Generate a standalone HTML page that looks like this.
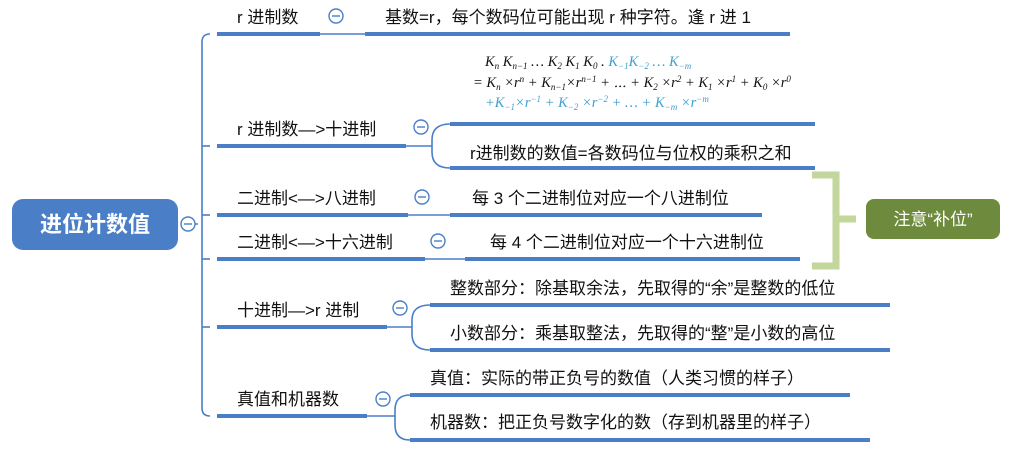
<!DOCTYPE html>
<html><head><meta charset="utf-8"><style>
html,body{margin:0;padding:0;background:#fff;}
svg{display:block;}
text{font-family:"Liberation Sans","Noto Sans CJK SC",sans-serif;fill:#111;}
.t{font-size:17px;}
.m{font-family:"Liberation Serif","Noto Serif CJK SC",serif;font-style:italic;font-size:14.5px;}
</style></head><body>
<svg width="1024" height="453" viewBox="0 0 1024 453" xmlns="http://www.w3.org/2000/svg">
<g fill="none" stroke="#4a7fc8" stroke-width="1.6">
<path d="M190 224 H198 M210 34 Q202 34 202 42 V408 Q202 416 210 416"/>
<path d="M202 146 Q202 146 210 146"/>
<path d="M202 215 Q202 215 210 215"/>
<path d="M202 259 Q202 259 210 259"/>
<path d="M202 327 Q202 327 210 327"/>
<path d="M406 146 H432 M450 124 Q432 124 432 140 V152 Q432 168 450 168"/>
<path d="M387 327 H412 M430 305 Q412 305 412 320 V334 Q412 350 430 350"/>
<path d="M367 416 H395 M410 395 Q395 395 395 410 V425 Q395 440 410 440"/>
<path d="M320 34 H365 M408 215 H450 M425 259 H465"/>
</g>
<g stroke="#4a7fc8" stroke-width="4" stroke-linecap="butt">
<line x1="217" y1="34" x2="320" y2="34"/>
<line x1="365" y1="34" x2="790" y2="34"/>
<line x1="217" y1="146" x2="406" y2="146"/>
<line x1="450" y1="124" x2="815" y2="124"/>
<line x1="450" y1="168" x2="815" y2="168"/>
<line x1="217" y1="215" x2="408" y2="215"/>
<line x1="450" y1="215" x2="762" y2="215"/>
<line x1="217" y1="259" x2="425" y2="259"/>
<line x1="465" y1="259" x2="800" y2="259"/>
<line x1="217" y1="327" x2="387" y2="327"/>
<line x1="430" y1="305" x2="890" y2="305"/>
<line x1="430" y1="350" x2="890" y2="350"/>
<line x1="217" y1="416" x2="367" y2="416"/>
<line x1="410" y1="395" x2="850" y2="395"/>
<line x1="410" y1="440" x2="870" y2="440"/>
</g>
<g fill="#fff" stroke="#4a7fc8" stroke-width="1.4">
<circle cx="188" cy="224" r="7"/><circle cx="336" cy="16" r="7"/><circle cx="421" cy="127" r="7"/>
<circle cx="422" cy="197" r="7"/><circle cx="438" cy="241" r="7"/><circle cx="400" cy="308" r="7"/>
<circle cx="383" cy="399" r="7"/>
</g>
<g stroke="#4a7fc8" stroke-width="1.4">
<line x1="184" y1="224" x2="192" y2="224"/><line x1="332" y1="16" x2="340" y2="16"/><line x1="417" y1="127" x2="425" y2="127"/>
<line x1="418" y1="197" x2="426" y2="197"/><line x1="434" y1="241" x2="442" y2="241"/><line x1="396" y1="308" x2="404" y2="308"/>
<line x1="379" y1="399" x2="387" y2="399"/>
</g>
<rect x="12" y="199" width="166" height="51" rx="11" fill="#4a7fc8"/>
<text x="95" y="232" text-anchor="middle" style="font-size:22px;fill:#fff;font-weight:bold">进位计数值</text>
<text class="t" x="237" y="23">r 进制数</text>
<text class="t" x="385" y="23">基数=r，每个数码位可能出现 r 种字符。逢 r 进 1</text>
<text class="t" x="237" y="135">r 进制数—&gt;十进制</text>
<text class="t" x="470" y="159">r进制数的数值=各数码位与位权的乘积之和</text>
<text class="t" x="237" y="204">二进制&lt;—&gt;八进制</text>
<text class="t" x="472" y="204">每 3 个二进制位对应一个八进制位</text>
<text class="t" x="237" y="248">二进制&lt;—&gt;十六进制</text>
<text class="t" x="490" y="248">每 4 个二进制位对应一个十六进制位</text>
<text class="t" x="237" y="316">十进制—&gt;r 进制</text>
<text class="t" x="450" y="294">整数部分：除基取余法，先取得的“余”是整数的低位</text>
<text class="t" x="450" y="339">小数部分：乘基取整法，先取得的“整”是小数的高位</text>
<text class="t" x="237" y="405">真值和机器数</text>
<text class="t" x="430" y="384">真值：实际的带正负号的数值（人类习惯的样子）</text>
<text class="t" x="430" y="428">机器数：把正负号数字化的数（存到机器里的样子）</text>
<text class="m" x="485" y="66">K<tspan font-size="9" dy="3">n</tspan><tspan dy="-3"> K</tspan><tspan font-size="9" dy="3">n−1</tspan><tspan dy="-3"> … K</tspan><tspan font-size="9" dy="3">2</tspan><tspan dy="-3"> K</tspan><tspan font-size="9" dy="3">1</tspan><tspan dy="-3"> K</tspan><tspan font-size="9" dy="3">0</tspan><tspan dy="-3"> . </tspan><tspan fill="#3fa0d0">K</tspan><tspan fill="#3fa0d0" font-size="9" dy="3">−1</tspan><tspan fill="#3fa0d0" dy="-3">K</tspan><tspan fill="#3fa0d0" font-size="9" dy="3">−2</tspan><tspan fill="#3fa0d0" dy="-3"> … K</tspan><tspan fill="#3fa0d0" font-size="9" dy="3">−m</tspan></text>
<text class="m" x="473" y="87">= K<tspan font-size="9" dy="3">n</tspan><tspan dy="-3"> ×r</tspan><tspan font-size="9" dy="-5">n</tspan><tspan dy="5"> + K</tspan><tspan font-size="9" dy="3">n−1</tspan><tspan dy="-3">×r</tspan><tspan font-size="9" dy="-5">n−1</tspan><tspan dy="5"> + ⋯ + K</tspan><tspan font-size="9" dy="3">2</tspan><tspan dy="-3"> ×r</tspan><tspan font-size="9" dy="-5">2</tspan><tspan dy="5"> + K</tspan><tspan font-size="9" dy="3">1</tspan><tspan dy="-3"> ×r</tspan><tspan font-size="9" dy="-5">1</tspan><tspan dy="5"> + K</tspan><tspan font-size="9" dy="3">0</tspan><tspan dy="-3"> ×r</tspan><tspan font-size="9" dy="-5">0</tspan></text>
<text class="m" x="485" y="107" style="fill:#3fa0d0">+K<tspan font-size="9" dy="3">−1</tspan><tspan dy="-3">×r</tspan><tspan font-size="9" dy="-5">−1</tspan><tspan dy="5"> + K</tspan><tspan font-size="9" dy="3">−2</tspan><tspan dy="-3"> ×r</tspan><tspan font-size="9" dy="-5">−2</tspan><tspan dy="5"> + … + K</tspan><tspan font-size="9" dy="3">−m</tspan><tspan dy="-3"> ×r</tspan><tspan font-size="9" dy="-5">−m</tspan></text>
<path d="M812 175 H836 V266 H812 M836 219 H856" fill="none" stroke="#c3d69b" stroke-width="7"/>
<rect x="866" y="199" width="134" height="40" rx="8" fill="#6e8b3d"/>
<text x="933" y="225" text-anchor="middle" style="font-size:17px;fill:#fff">注意“补位”</text>
</svg>
</body></html>
